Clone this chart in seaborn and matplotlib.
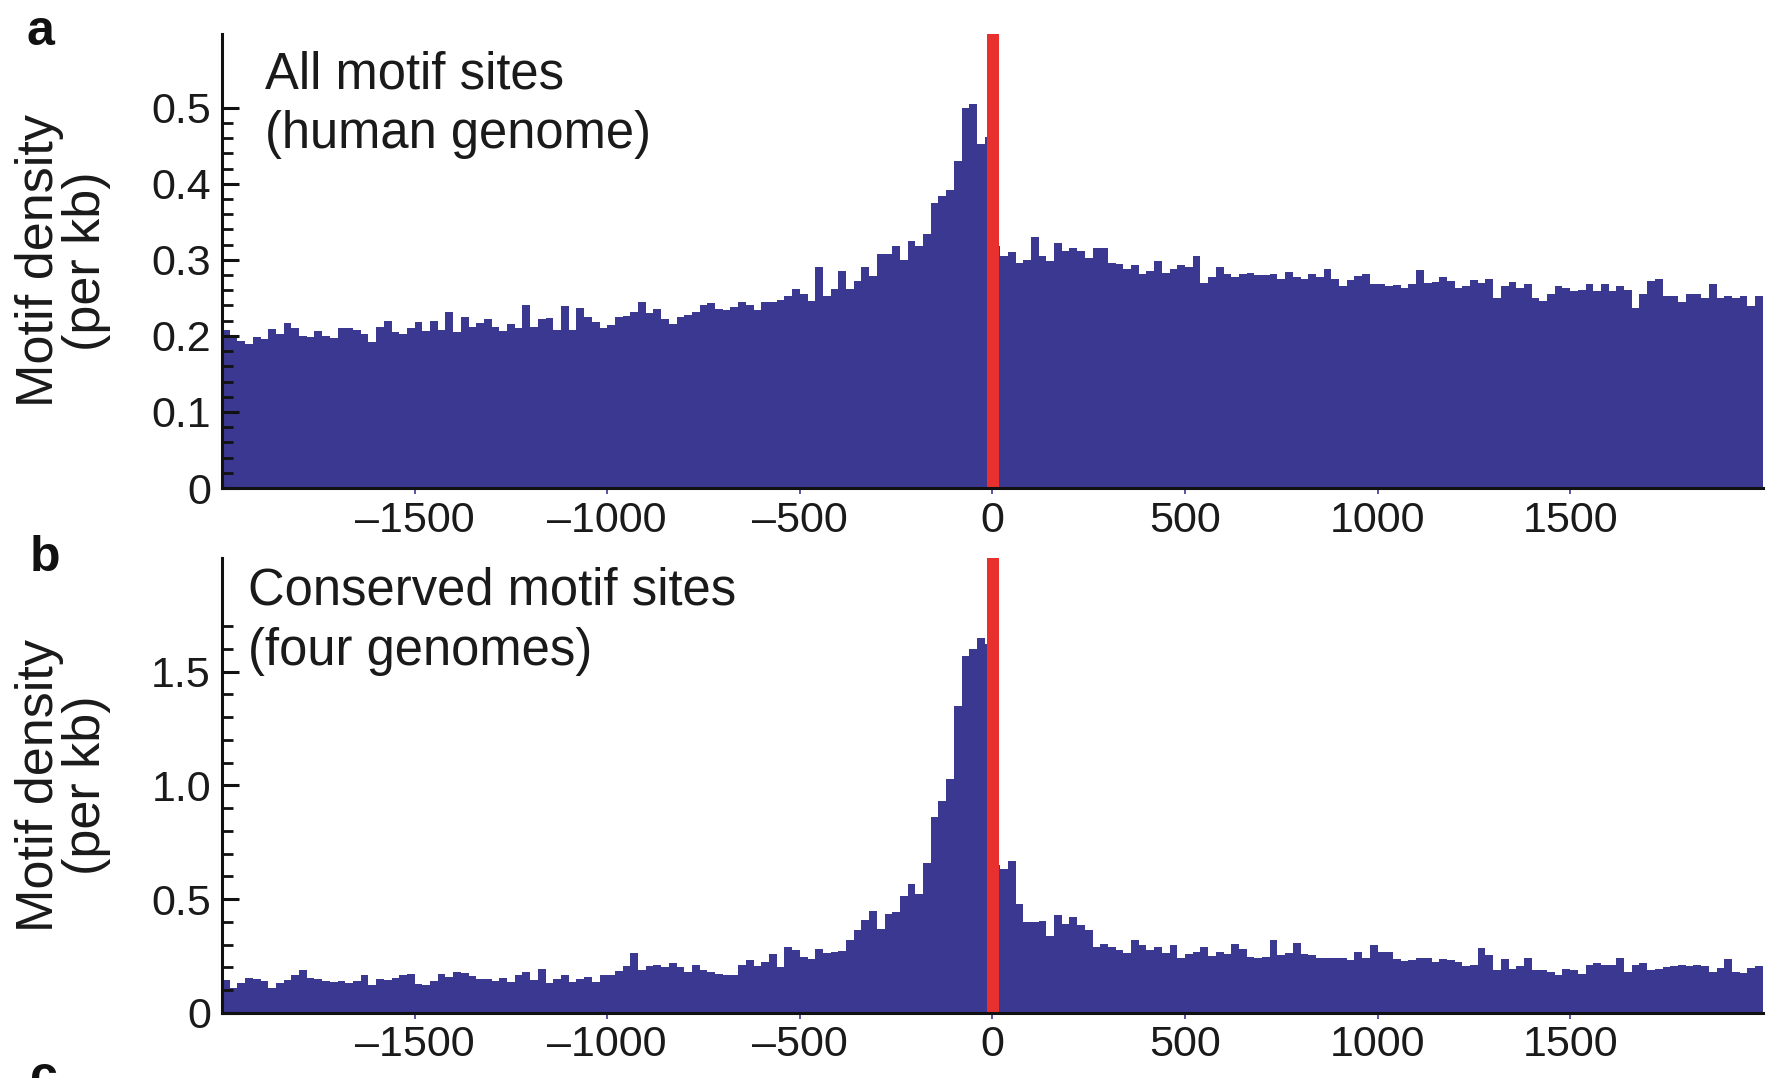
import numpy as np
import pandas as pd
import seaborn as sns
import matplotlib.pyplot as plt
from matplotlib.ticker import FixedLocator

# ---------------- data ----------------
bin_edges = np.arange(-2000, 2001, 20)           # 20-bp bins, -2000 .. +2000
bin_centers = bin_edges[:-1] + 10

density_all = [
    0.208, 0.200, 0.193, 0.190, 0.198, 0.196, 0.209, 0.203, 0.217, 0.210,
    0.200, 0.199, 0.207, 0.200, 0.197, 0.211, 0.210, 0.208, 0.203, 0.192,
    0.212, 0.220, 0.205, 0.203, 0.210, 0.218, 0.207, 0.220, 0.208, 0.231,
    0.205, 0.225, 0.212, 0.217, 0.222, 0.212, 0.207, 0.215, 0.210, 0.241,
    0.212, 0.222, 0.224, 0.208, 0.239, 0.208, 0.237, 0.225, 0.218, 0.210,
    0.214, 0.225, 0.226, 0.231, 0.245, 0.230, 0.236, 0.222, 0.215, 0.225,
    0.227, 0.232, 0.240, 0.243, 0.236, 0.234, 0.238,
    0.244, 0.240, 0.234, 0.245, 0.245, 0.247, 0.252, 0.262, 0.255, 0.246,
    0.290, 0.252, 0.262, 0.285, 0.262, 0.272, 0.290, 0.279, 0.308, 0.308,
    0.318, 0.300, 0.325, 0.318, 0.334, 0.375, 0.384, 0.392, 0.430, 0.500,
    0.505, 0.452, 0.462,
    0.318, 0.305, 0.310, 0.296, 0.300, 0.330, 0.305, 0.298, 0.322, 0.312,
    0.316, 0.311, 0.302, 0.316, 0.315, 0.296, 0.294, 0.288, 0.293, 0.281,
    0.285, 0.298, 0.283, 0.288, 0.293, 0.290, 0.305,
    0.270, 0.278, 0.290, 0.281, 0.278, 0.282, 0.283, 0.280, 0.280, 0.281,
    0.275, 0.284, 0.278, 0.275, 0.282, 0.278, 0.288, 0.275, 0.266, 0.274,
    0.279, 0.281, 0.268, 0.268, 0.266, 0.267, 0.263, 0.268, 0.286, 0.270,
    0.271, 0.277, 0.272, 0.263, 0.266, 0.274, 0.269, 0.275, 0.250, 0.266,
    0.271, 0.263, 0.268, 0.250, 0.246, 0.255, 0.266, 0.263, 0.259, 0.260,
    0.268, 0.259, 0.268, 0.259, 0.266, 0.261, 0.237, 0.255, 0.272, 0.275,
    0.252, 0.253, 0.244, 0.255, 0.255, 0.250, 0.268, 0.250, 0.252, 0.250,
    0.252, 0.239, 0.252,
]

density_conserved = [
    0.145, 0.110, 0.130, 0.155, 0.150, 0.140, 0.110, 0.130, 0.145, 0.165,
    0.190, 0.155, 0.150, 0.142, 0.135, 0.140, 0.130, 0.140, 0.165, 0.125,
    0.150, 0.145, 0.155, 0.165, 0.170, 0.128, 0.122, 0.140, 0.172, 0.160,
    0.182, 0.175, 0.162, 0.150, 0.148, 0.140, 0.155, 0.135, 0.165, 0.180,
    0.145, 0.195, 0.130, 0.150, 0.165, 0.135, 0.148, 0.160, 0.135, 0.165,
    0.167, 0.185, 0.205, 0.265, 0.190, 0.205, 0.210, 0.200, 0.220, 0.200,
    0.180, 0.210,
    0.190, 0.180, 0.170, 0.165, 0.165,
    0.210, 0.235, 0.205, 0.224, 0.260, 0.201, 0.290, 0.275, 0.245, 0.236,
    0.280, 0.263, 0.268, 0.272, 0.320, 0.365, 0.410, 0.450, 0.370, 0.436,
    0.445, 0.515, 0.565, 0.525, 0.660, 0.860, 0.930, 1.030, 1.350, 1.570,
    1.600, 1.650, 1.620,
    0.650, 0.635, 0.670, 0.480, 0.400, 0.400, 0.405, 0.340, 0.430, 0.390,
    0.420, 0.385, 0.365, 0.290, 0.305, 0.290, 0.277, 0.265, 0.320, 0.300,
    0.278, 0.290, 0.262, 0.300, 0.240, 0.258, 0.270, 0.290, 0.250, 0.270,
    0.260, 0.305, 0.280,
    0.245, 0.243, 0.248, 0.320, 0.255, 0.265, 0.307, 0.260, 0.257, 0.243,
    0.240, 0.240, 0.240, 0.232, 0.270, 0.240, 0.300, 0.270, 0.270, 0.236,
    0.230, 0.235, 0.240, 0.243, 0.225, 0.238, 0.235, 0.225, 0.206, 0.213,
    0.287, 0.254, 0.190, 0.236, 0.195, 0.205, 0.240, 0.190, 0.190, 0.180,
    0.166, 0.195, 0.190, 0.170, 0.213, 0.221, 0.213, 0.213, 0.240, 0.180,
    0.213, 0.220, 0.191, 0.195, 0.201, 0.206, 0.213, 0.206, 0.213, 0.206,
    0.181, 0.198, 0.236, 0.181, 0.176, 0.198, 0.206,
]

x_tick_values = [-1500, -1000, -500, 0, 500, 1000, 1500]
x_tick_labels = ['\u20131500', '\u20131000', '\u2013500', '0', '500', '1000', '1500']
panel_titles = [("All motif sites", "(human genome)"),
                ("Conserved motif sites", "(four genomes)")]
y_major = [[0, 0.1, 0.2, 0.3, 0.4, 0.5], [0, 0.5, 1.0, 1.5]]
y_major_labels = [["0", "0.1", "0.2", "0.3", "0.4", "0.5"], ["0", "0.5", "1.0", "1.5"]]
y_minor = [list(np.round(np.arange(0, 0.501, 0.02), 3)), list(np.round(np.arange(0, 1.701, 0.1), 2))]
y_limits = [0.597, 2.0]

# ---------------- style ----------------
sns.set_theme(style="white")
plt.rcParams['font.family'] = ['Liberation Sans', 'DejaVu Sans']

BAR = '#3b3891'
RED = '#e8312f'

fig = plt.figure(figsize=(17.75, 10.78), dpi=100)
axes = [fig.add_axes([0.1251, 0.5473, 0.868, 0.4212]),
        fig.add_axes([0.1251, 0.0603, 0.868, 0.4221])]

datasets = [density_all, density_conserved]
text_pos = [(0.028, 0.879, 0.749), (0.017, 0.897, 0.765)]

for i, ax in enumerate(axes):
    df = pd.DataFrame({"position": bin_centers.astype(float),
                       "density": np.asarray(datasets[i], dtype=float)})
    sns.histplot(data=df, x="position", weights="density",
                 binwidth=20, binrange=(-2000, 2000),
                 element="bars", fill=True, color=BAR, alpha=1.0,
                 linewidth=0, ax=ax)
    ax.axvspan(-14, 16, color=RED, zorder=1.5, linewidth=0)
    ax.set_xlim(-2000, 2000)
    ax.set_ylim(0, y_limits[i])
    ax.set_xlabel("")
    ax.set_ylabel("")
    ax.set_axisbelow(False)

    for s in ["top", "right"]:
        ax.spines[s].set_visible(False)
    for s in ["left", "bottom"]:
        ax.spines[s].set_color("#111111")
        ax.spines[s].set_linewidth(2.2)
        ax.spines[s].set_zorder(3)

    ax.tick_params(which='both', left=True, bottom=True, top=False, right=False)

    ax.set_xticks(x_tick_values)
    ax.set_xticklabels(x_tick_labels)
    ax.tick_params(axis='x', which='major', direction='out', length=4, width=1.2,
                   color=BAR, labelsize=31, pad=5, labelcolor='#1a1a1a')
    ax.xaxis.set_minor_locator(FixedLocator([-1000, 0, 1000]))
    ax.tick_params(axis='x', which='minor', direction='in', length=7, width=2.2,
                   color='#111111')

    ax.set_yticks(y_major[i])
    ax.set_yticklabels(y_major_labels[i])
    ax.yaxis.set_minor_locator(FixedLocator(y_minor[i]))
    ax.tick_params(axis='y', which='major', direction='in', length=12, width=2.2,
                   color='#111111', labelsize=31, pad=8, labelcolor='#1a1a1a')
    ax.tick_params(axis='y', which='minor', direction='in', length=8, width=2.0,
                   color='#111111')

    ax.text(-0.103, 0.5, "Motif density\n(per kb)", transform=ax.transAxes,
            rotation=90, ha='center', va='center', fontsize=37.5,
            linespacing=0.95, color='#1a1a1a')

    tx, ty1, ty2 = text_pos[i]
    ax.text(tx, ty1, panel_titles[i][0], transform=ax.transAxes,
            ha='left', va='baseline', fontsize=36.5, color='#1a1a1a')
    ax.text(tx, ty2, panel_titles[i][1], transform=ax.transAxes,
            ha='left', va='baseline', fontsize=36.5, color='#1a1a1a')

fig.text(0.015, 0.958, "a", fontsize=36, fontweight='bold', va='baseline', ha='left', color='#111111')
fig.text(0.017, 0.470, "b", fontsize=36, fontweight='bold', va='baseline', ha='left', color='#111111')
fig.text(0.017, -0.012, "c", fontsize=36, fontweight='bold', va='baseline', ha='left', color='#111111')

fig.savefig("out.png", dpi=100)
